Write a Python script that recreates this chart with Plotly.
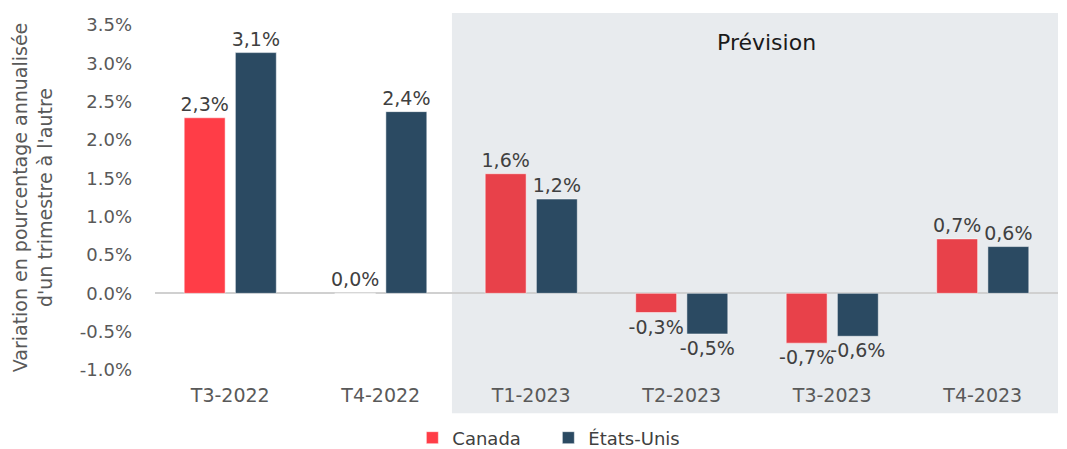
import plotly.graph_objects as go

categories = ["T3-2022", "T4-2022", "T1-2023", "T2-2023", "T3-2023", "T4-2023"]
canada = [2.29, 0.0, 1.56, -0.25, -0.65, 0.71]
etats_unis = [3.14, 2.37, 1.23, -0.53, -0.56, 0.61]
canada_labels = ["2,3%", "0,0%", "1,6%", "-0,3%", "-0,7%", "0,7%"]
us_labels = ["3,1%", "2,4%", "1,2%", "-0,5%", "-0,6%", "0,6%"]
forecast_start = "T1-2023"
y_ticks = [-1.0, -0.5, 0.0, 0.5, 1.0, 1.5, 2.0, 2.5, 3.0, 3.5]

FONT = "DejaVu Sans"
RED = "#FF3D47"
RED_F = "#E8414A"
NAVY = "#2B4A62"

fi = categories.index(forecast_start)
canada_colors = [RED if i < fi else RED_F for i in range(len(categories))]

fig = go.Figure()
fig.add_trace(go.Bar(
    name="Canada", x=categories, y=canada,
    marker=dict(color=canada_colors, line=dict(color="rgba(255,255,255,0.5)", width=1)),
    text=canada_labels, textposition="outside", cliponaxis=False, constraintext="none",
    textfont=dict(family=FONT, size=19, color="#404040"),
))
fig.add_trace(go.Bar(
    name="États-Unis", x=categories, y=etats_unis,
    marker=dict(color=NAVY, line=dict(color="rgba(255,255,255,0.5)", width=1)),
    text=us_labels, textposition="outside", cliponaxis=False, constraintext="none",
    textfont=dict(family=FONT, size=19, color="#404040"),
))

n = len(categories)
x0_paper = (fi - 0.5 + 0.5 - 0.027) / n
fig.add_shape(type="rect", xref="paper", yref="paper",
              x0=x0_paper, x1=1.0, y0=-0.125, y1=1.035,
              fillcolor="#E8EBEE", line=dict(width=0), layer="below")
fig.add_annotation(xref="paper", yref="paper", x=(x0_paper + 1) / 2 + 0.013, y=0.95,
                   text="Prévision", showarrow=False, xanchor="center", yanchor="middle",
                   font=dict(family=FONT, size=22, color="#1a1a1a"))

# the page body adds an 8px offset; size the figure to fill the window
fig.update_layout(
    width=1059, height=441,
    margin=dict(l=147, r=9, t=17, b=79, autoexpand=False),
    paper_bgcolor="white", plot_bgcolor="rgba(0,0,0,0)",
    barmode="group", bargap=0.32, bargroupgap=0.2,
    showlegend=True,
    legend=dict(orientation="h", x=0.285, xanchor="left", yref="container", y=0.025, yanchor="middle",
                font=dict(family=FONT, size=18, color="#404040"),
                traceorder="normal", itemwidth=30, entrywidth=91, entrywidthmode="pixels"),
    font=dict(family=FONT, color="#595959"),
)
fig.update_xaxes(showgrid=False, showline=False, ticks="", automargin=False,
                 tickfont=dict(family=FONT, size=19, color="#595959"),
                 ticklabelstandoff=12)
fig.update_yaxes(range=[-1.0, 3.5], tickvals=y_ticks, automargin=False,
                 ticktext=[f"{v:.1f}%" for v in y_ticks],
                 showgrid=False, zeroline=True, zerolinecolor="#D0D0D0", zerolinewidth=2,
                 tickfont=dict(family=FONT, size=18, color="#595959"),
                 ticklabelstandoff=22,
                 title=dict(text="Variation en pourcentage annualisée<br>d'un trimestre à l'autre",
                            font=dict(family=FONT, size=19, color="#595959"), standoff=22))

fig.write_html("out.html")
